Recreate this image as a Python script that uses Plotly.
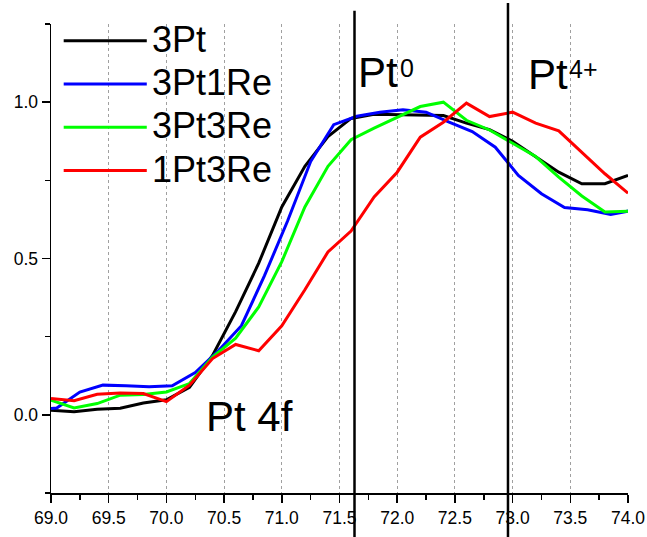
import plotly.graph_objects as go

# ---------------- data ----------------
series_names = ["3Pt", "3Pt1Re", "3Pt3Re", "1Pt3Re"]
series_colors = ["#000000", "#0000FF", "#00FF00", "#FF0000"]

x_grid = [69.0, 69.2, 69.4, 69.6, 69.8, 70.0, 70.2, 70.4, 70.6, 70.8,
          71.0, 71.2, 71.4, 71.6, 71.8, 72.0, 72.2, 72.4, 72.6, 72.8,
          73.0, 73.2, 73.4, 73.6, 73.8, 74.0]

y_3pt = [0.015, 0.010, 0.018, 0.021, 0.038, 0.048, 0.088, 0.190, 0.330, 0.485,
         0.665, 0.795, 0.890, 0.948, 0.961, 0.960, 0.958, 0.957, 0.933, 0.912,
         0.875, 0.826, 0.776, 0.739, 0.739, 0.766]

x_3pt1re = [68.85, 69.05, 69.25, 69.45, 69.65, 69.85, 70.05, 70.25, 70.45, 70.65,
            70.85, 71.05, 71.25, 71.45, 71.65, 71.85, 72.05, 72.25, 72.45, 72.65,
            72.85, 73.05, 73.25, 73.45, 73.65, 73.85, 74.05]
y_3pt1re = [0.015, 0.022, 0.073, 0.095, 0.093, 0.090, 0.093, 0.135, 0.205, 0.285,
            0.445, 0.620, 0.810, 0.928, 0.955, 0.968, 0.976, 0.968, 0.936, 0.906,
            0.856, 0.766, 0.707, 0.663, 0.656, 0.641, 0.655]

y_3pt3re = [0.047, 0.022, 0.036, 0.063, 0.065, 0.073, 0.100, 0.185, 0.245, 0.345,
            0.490, 0.665, 0.795, 0.880, 0.917, 0.952, 0.986, 1.000, 0.942, 0.911,
            0.868, 0.826, 0.760, 0.700, 0.649, 0.651]

y_1pt3re = [0.052, 0.045, 0.066, 0.070, 0.068, 0.042, 0.095, 0.180, 0.225, 0.205,
            0.285, 0.400, 0.521, 0.588, 0.697, 0.776, 0.888, 0.936, 0.997, 0.954,
            0.968, 0.933, 0.908, 0.840, 0.771, 0.709]

series_x = [x_grid, x_3pt1re, x_grid, x_grid]
series_y = [y_3pt, y_3pt1re, y_3pt3re, y_1pt3re]

marker_lines_x = [71.63, 72.96]
marker_base = ["Pt", "Pt"]
marker_sup = ["0", "4+"]
region_label = "Pt 4f"

x_ticks = [69.0, 69.5, 70.0, 70.5, 71.0, 71.5, 72.0, 72.5, 73.0, 73.5, 74.0]
y_ticks = [0.0, 0.5, 1.0]

# ---------------- figure ----------------
FONT = "Liberation Sans, Arial, sans-serif"
fig = go.Figure()

for name, color, xs, ys in zip(series_names, series_colors, series_x, series_y):
    fig.add_trace(go.Scatter(x=xs, y=ys, mode="lines", name=name,
                             line=dict(color=color, width=3),
                             showlegend=False))

# manual legend (long line samples as in the reference)
leg_top = 0.9644
leg_step = 0.0923
shapes = []
annotations = []
for i, (name, color) in enumerate(zip(series_names, series_colors)):
    yy = leg_top - i * leg_step
    shapes.append(dict(type="line", xref="paper", yref="paper",
                       x0=0.022, x1=0.166, y0=yy, y1=yy,
                       line=dict(color=color, width=3)))
    annotations.append(dict(xref="paper", yref="paper", x=0.172, y=yy + 0.003,
                            xanchor="left", yanchor="middle", showarrow=False,
                            text=name, font=dict(family=FONT, size=36, color="black")))

# vertical reference lines
shapes.append(dict(type="line", xref="x", yref="paper", x0=marker_lines_x[0], x1=marker_lines_x[0],
                   y0=-0.095, y1=1.028, line=dict(color="black", width=2.5), layer="above"))
shapes.append(dict(type="line", xref="x", yref="paper", x0=marker_lines_x[1], x1=marker_lines_x[1],
                   y0=-0.095, y1=1.045, line=dict(color="black", width=2.5), layer="above"))

# Pt0 / Pt4+ labels (base text + raised smaller superscript)
base_pos = [(71.64, 1.095), (73.113, 1.089)]
sup_pos = [(72.005, 1.109), (73.475, 1.107)]
for txt, (bx, by) in zip(marker_base, base_pos):
    annotations.append(dict(x=bx, y=by, xref="x", yref="y", xanchor="left", yanchor="middle",
                            showarrow=False, text=txt,
                            font=dict(family=FONT, size=42, color="black")))
for txt, (sx, sy) in zip(marker_sup, sup_pos):
    annotations.append(dict(x=sx, y=sy, xref="x", yref="y", xanchor="left", yanchor="middle",
                            showarrow=False, text=txt,
                            font=dict(family=FONT, size=25, color="black")))

annotations.append(dict(x=70.33, y=-0.006, xref="x", yref="y", xanchor="left", yanchor="middle",
                        showarrow=False, text=region_label,
                        font=dict(family=FONT, size=42, color="black")))

fig.update_layout(
    width=647, height=537,
    margin=dict(l=51, r=19, t=24, b=44),
    paper_bgcolor="white", plot_bgcolor="white",
    font=dict(family=FONT, size=17.5, color="black"),
    shapes=shapes, annotations=annotations,
    showlegend=False,
)

fig.update_xaxes(
    range=[69.0, 74.0], tickvals=x_ticks, ticktext=[f"{v:.1f}" for v in x_ticks],
    ticks="outside", ticklen=8, tickwidth=1.5, tickcolor="black",
    showline=True, linecolor="black", linewidth=1.5,
    showgrid=True, gridcolor="#a0a0a0", gridwidth=1, griddash="dot",
    zeroline=False, automargin=False,
    minor=dict(dtick=0.25, ticks="outside", ticklen=5, tickwidth=1.5, tickcolor="black", showgrid=False),
    tickfont=dict(family=FONT, size=17.5, color="black"),
)
fig.update_yaxes(
    range=[-0.25, 1.25], tickvals=y_ticks, ticktext=[f"{v:.1f}" for v in y_ticks],
    ticks="outside", ticklen=8, tickwidth=1.5, tickcolor="black",
    showline=True, linecolor="black", linewidth=1.5,
    showgrid=False, zeroline=False, automargin=False,
    minor=dict(dtick=0.25, tick0=0, ticks="outside", ticklen=5, tickwidth=1.5, tickcolor="black", showgrid=False),
    tickfont=dict(family=FONT, size=17.5, color="black"),
)

# remove the default page margin so the 647x537 figure fills the window exactly
fig.write_html("out.html", config={"displayModeBar": False, "staticPlot": True},
               post_script="document.body.style.margin='0';")
